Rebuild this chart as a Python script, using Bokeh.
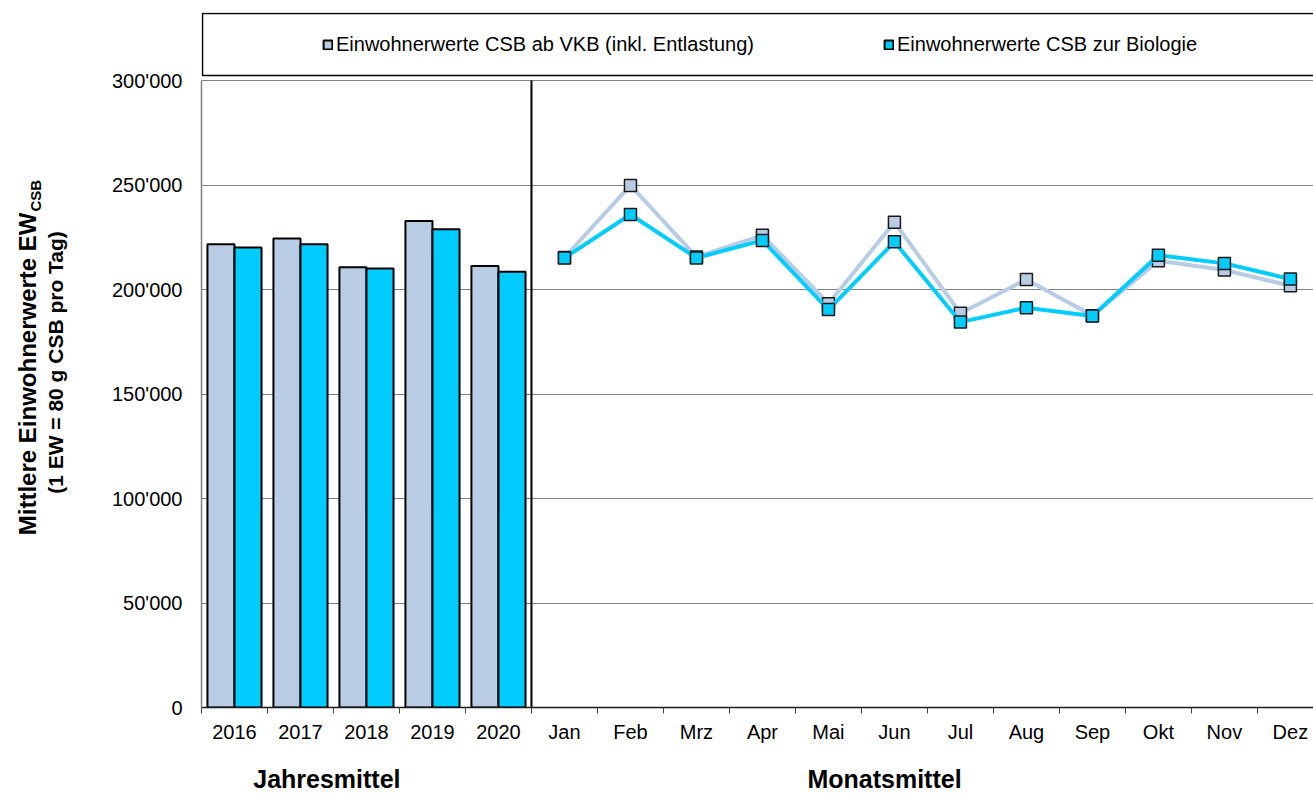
from bokeh.plotting import figure
from bokeh.layouts import row
from bokeh.models import (Range1d, FixedTicker, Legend, LegendItem, Label,
                          ColumnDataSource, LinearAxis, BoxAnnotation)
from bokeh.embed import file_html
from bokeh.resources import INLINE
import math

# ---------------- data ----------------
years = ["2016", "2017", "2018", "2019", "2020"]
months = ["Jan", "Feb", "Mrz", "Apr", "Mai", "Jun", "Jul", "Aug", "Sep", "Okt", "Nov", "Dez"]

year_vkb = [221700, 224400, 210600, 232800, 211300]
year_bio = [220100, 221700, 210000, 228800, 208500]

month_vkb = [215300, 249800, 215600, 225900, 193200, 232200, 188600, 204800, 187500, 213800, 209300, 201800]
month_bio = [215100, 235900, 215100, 223500, 190400, 222800, 184400, 191300, 187300, 216400, 212500, 205000]

y_ticks = [0, 50000, 100000, 150000, 200000, 250000, 300000]

series_names = ["Einwohnerwerte CSB ab VKB (inkl. Entlastung)",
                "Einwohnerwerte CSB zur Biologie"]
group_titles = ["Jahresmittel", "Monatsmittel"]
y_title = "Mittlere Einwohnerwerte EW"
y_title_sub = "CSB"
y_title2 = "(1 EW = 80 g CSB pro Tag)"

# ---------------- styling / layout ----------------
C_GRAY = "#B8CCE4"
C_BLUE = "#00CCFF"
FONT = "Liberation Sans"

categories = years + months
n_years = len(years)

TOTAL_W, H = 1313, 796
LEFT_W = 90
W = TOTAL_W - LEFT_W
TOP, BOTTOM = 12, 89            # frame spans page y 12 .. 707
FH = H - TOP - BOTTOM           # 695
PLOT_TOP_PX = 80                # page y of the 300'000 line
y_end = y_ticks[-1] * FH / (H - BOTTOM - PLOT_TOP_PX)

p = figure(width=W, height=H, output_backend="svg", toolbar_location=None,
           x_range=Range1d(0, 16.85), y_range=Range1d(y_ticks[0], y_end),
           min_border_left=111, min_border_right=0, min_border_top=TOP,
           min_border_bottom=BOTTOM)
p.background_fill_color = "white"
p.border_fill_color = "white"
p.outline_line_color = None

# bars (yearly means)
xc_years = [i + 0.5 for i in range(n_years)]
src_bars = ColumnDataSource(dict(
    x_vkb=[x - 0.205 for x in xc_years], x_bio=[x + 0.205 for x in xc_years],
    vkb=year_vkb, bio=year_bio))
r_bar_vkb = p.vbar(x="x_vkb", top="vkb", width=0.41, source=src_bars,
                   fill_color=C_GRAY, line_color="black", line_width=2)
r_bar_bio = p.vbar(x="x_bio", top="bio", width=0.41, source=src_bars,
                   fill_color=C_BLUE, line_color="black", line_width=2)

# lines (monthly means)
xc_months = [n_years + j + 0.5 for j in range(len(months))]
src_m = ColumnDataSource(dict(x=xc_months, vkb=month_vkb, bio=month_bio))
p.line(x="x", y="vkb", source=src_m, line_color=C_GRAY, line_width=4)
p.scatter(x="x", y="vkb", source=src_m, marker="square", size=12,
          fill_color=C_GRAY, line_color="#1a1a1a", line_width=1.5)
p.line(x="x", y="bio", source=src_m, line_color=C_BLUE, line_width=4)
p.scatter(x="x", y="bio", source=src_m, marker="square", size=12,
          fill_color=C_BLUE, line_color="#1a1a1a", line_width=1.5)

# separator between yearly and monthly section
p.segment(x0=[n_years], y0=[y_ticks[0]], x1=[n_years], y1=[y_ticks[-1]],
          line_color="black", line_width=2)

# ---------------- axes ----------------
xt = FixedTicker(ticks=[i + 0.5 for i in range(len(categories))],
                 minor_ticks=list(range(len(categories) + 1)))
p.xaxis.ticker = xt
p.xaxis.major_label_overrides = {i + 0.5: c for i, c in enumerate(categories)}
p.xaxis.major_tick_out = 0
p.xaxis.major_tick_in = 0
p.xaxis.minor_tick_out = 6
p.xaxis.minor_tick_in = 0
p.xaxis.minor_tick_line_color = "#444444"
p.xaxis.axis_line_color = "#1a1a1a"
p.xaxis.axis_line_width = 1.5
p.xaxis.major_label_standoff = 7
p.xaxis.major_label_text_font = FONT
p.xaxis.major_label_text_font_size = "20px"
p.xaxis.major_label_text_color = "black"
p.xgrid.visible = False

# group titles below the category labels
group_pos = [n_years / 2 - 0.6, n_years + len(months) / 2 - 0.65]
gax = LinearAxis(ticker=FixedTicker(ticks=group_pos),
                 major_label_overrides={group_pos[0]: group_titles[0],
                                        group_pos[1]: group_titles[1]},
                 axis_line_alpha=0, major_tick_out=0, major_tick_in=0,
                 minor_tick_out=0, minor_tick_in=0, major_label_standoff=19,
                 major_label_text_font=FONT, major_label_text_font_style="bold",
                 major_label_text_font_size="25px", major_label_text_color="black")
p.add_layout(gax, "below")

p.yaxis.ticker = FixedTicker(ticks=y_ticks)
p.yaxis.bounds = (y_ticks[0], y_ticks[-1])
p.yaxis.major_label_overrides = {v: f"{v:,}".replace(",", "'") for v in y_ticks}
p.yaxis.major_tick_out = 0
p.yaxis.major_tick_in = 0
p.yaxis.minor_tick_out = 0
p.yaxis.minor_tick_in = 0
p.yaxis.axis_line_color = "#808080"
p.yaxis.axis_line_width = 1.5
p.yaxis.major_label_standoff = 19
p.yaxis.major_label_text_font = FONT
p.yaxis.major_label_text_font_size = "20px"
p.yaxis.major_label_text_color = "black"
p.ygrid.grid_line_color = "#808080"
p.ygrid.grid_line_width = 1

# ---------------- legend (box at the top of the frame) ----------------
p.add_layout(BoxAnnotation(left=1, right=3000, bottom=FH - 63, top=FH - 1,
                           left_units="screen", right_units="screen",
                           top_units="screen", bottom_units="screen",
                           fill_color="white", fill_alpha=1,
                           line_color="black", line_alpha=1, line_width=1.5))
legend = Legend(items=[LegendItem(label=series_names[0], renderers=[r_bar_vkb]),
                       LegendItem(label=series_names[1], renderers=[r_bar_bio])],
                orientation="horizontal", location=(121, FH - 32 - 12.5),
                border_line_alpha=0, background_fill_alpha=0,
                padding=0, margin=0, spacing=0,
                glyph_width=11, glyph_height=11, label_height=25,
                label_width=547, label_standoff=3,
                label_text_font=FONT, label_text_font_size="20px",
                label_text_color="black")
p.add_layout(legend, "center")

# ---------------- y-axis title (separate narrow panel) ----------------
lf = figure(width=LEFT_W, height=H, output_backend="svg", toolbar_location=None,
            x_range=Range1d(0, LEFT_W), y_range=Range1d(0, FH),
            x_axis_type=None, y_axis_type=None,
            min_border_left=0, min_border_right=0, min_border_top=TOP,
            min_border_bottom=BOTTOM)
lf.outline_line_color = None
lf.grid.visible = False
lf.background_fill_color = "white"
lf.border_fill_color = "white"

base = H - BOTTOM   # page y of frame bottom
lf.add_layout(Label(x=27, y=base - 212, angle=math.pi / 2, text=y_title,
                    text_font=FONT, text_font_style="bold", text_font_size="24px",
                    text_align="right", text_baseline="middle", text_color="black"))
lf.add_layout(Label(x=35, y=base - 211, angle=math.pi / 2, text=y_title_sub,
                    text_font=FONT, text_font_style="bold", text_font_size="15px",
                    text_align="left", text_baseline="middle", text_color="black"))
lf.add_layout(Label(x=55, y=base - 362, angle=math.pi / 2, text=y_title2,
                    text_font=FONT, text_font_style="bold", text_font_size="21px",
                    text_align="center", text_baseline="middle", text_color="black"))

layout = row(lf, p, spacing=0)
open("out.html", "w").write(file_html(layout, INLINE))
